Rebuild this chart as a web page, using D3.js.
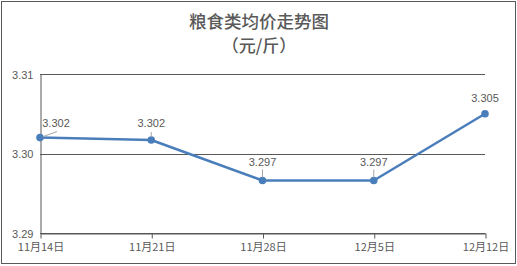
<!DOCTYPE html>
<html>
<head>
<meta charset="utf-8">
<script src="https://cdn.jsdelivr.net/npm/d3@7"></script>
<style>
  body { margin: 0; background: #fff; }
  text { font-family: "Noto Sans CJK SC", "Microsoft YaHei", sans-serif; fill: #595959; }
</style>
</head>
<body>
<script>
// Chart data
var dates = ["11月14日", "11月21日", "11月28日", "12月5日", "12月12日"];
var prices = [3.302, 3.3017, 3.2966, 3.2966, 3.305];
var priceLabels = ["3.302", "3.302", "3.297", "3.297", "3.305"];
var yTicks = [3.29, 3.30, 3.31];

var width = 517,
	height = 266;

var svg = d3.select("body").append("svg")
	.attr("width", width)
	.attr("height", height);

// outer frame
svg.append("rect")
	.attr("x", 1.5).attr("y", 1.5)
	.attr("width", width - 3).attr("height", height - 4)
	.attr("fill", "#fff")
	.attr("stroke", "#595959")
	.attr("stroke-width", 1);

// title
svg.append("text")
	.attr("x", 259).attr("y", 28)
	.attr("text-anchor", "middle")
	.style("font-size", "17.5px")
	.style("font-weight", "500")
	.text("粮食类均价走势图");
svg.append("text")
	.attr("x", 259).attr("y", 52)
	.attr("text-anchor", "middle")
	.style("font-size", "17px")
	.style("font-weight", "500")
	.text("（元/斤）");

var x = d3.scalePoint()
	.domain(dates)
	.range([40, 485]);

var y = d3.scaleLinear()
	.domain([3.29, 3.31])
	.range([233, 74]);

// horizontal gridlines
svg.append("g").selectAll("line")
	.data(yTicks)
	.enter().append("line")
		.attr("x1", 40).attr("x2", 485)
		.attr("y1", function(d) { return Math.round(y(d)) + 0.5; })
		.attr("y2", function(d) { return Math.round(y(d)) + 0.5; })
		.attr("stroke", "#595959")
		.attr("stroke-width", 1);

// y axis
var yAxis = svg.append("g")
	.attr("transform", "translate(40.5,0.5)")
	.call(d3.axisLeft(y).tickValues(yTicks).tickSize(0).tickPadding(7)
		.tickFormat(d3.format(".2f")));
yAxis.select(".domain").attr("stroke", "#595959");
yAxis.selectAll("text").style("font-size", "11px").style("font-family", "Liberation Sans, Arial, sans-serif").attr("fill", "#595959");

// x axis
var xAxis = svg.append("g")
	.attr("transform", "translate(0.5,233.5)")
	.call(d3.axisBottom(x).tickSize(5).tickPadding(5).tickSizeOuter(0));
xAxis.select(".domain").attr("stroke", "#595959");
xAxis.selectAll(".tick line").attr("stroke", "#595959");
xAxis.selectAll("text").style("font-size", "11px").attr("fill", "#595959");

// line
var line = d3.line()
	.x(function(d, i) { return x(dates[i]); })
	.y(function(d) { return y(d); });

svg.append("path")
	.datum(prices)
	.attr("d", line)
	.attr("fill", "none")
	.attr("stroke", "#4a7ebb")
	.attr("stroke-width", 2.5)
	.attr("stroke-linejoin", "round");

svg.append("g").selectAll("circle")
	.data(prices)
	.enter().append("circle")
		.attr("cx", function(d, i) { return x(dates[i]); })
		.attr("cy", function(d) { return y(d); })
		.attr("r", 3.8)
		.attr("fill", "#4a7ebb");

// data labels with leader lines
var labelOffsets = [[16, -11], [0, -13], [0, -15], [0, -15], [0, -12]];
var leaders = [[3, -1, 17, -6], [0, -3, 0, -8], [0, -3, 0, -11], [0, -3, 0, -11], null];

svg.append("g").selectAll("line")
	.data(prices)
	.enter().filter(function(d, i) { return leaders[i]; }).append("line")
		.attr("x1", function(d, i) { return x(dates[i]) + leaders[i][0]; })
		.attr("y1", function(d, i) { return y(d) + leaders[i][1]; })
		.attr("x2", function(d, i) { return x(dates[i]) + leaders[i][2]; })
		.attr("y2", function(d, i) { return y(d) + leaders[i][3]; })
		.attr("stroke", "#a6a6a6")
		.attr("stroke-width", 1);

svg.append("g").selectAll("text")
	.data(prices)
	.enter().append("text")
		.attr("x", function(d, i) { return x(dates[i]) + labelOffsets[i][0]; })
		.attr("y", function(d, i) { return y(d) + labelOffsets[i][1]; })
		.attr("text-anchor", "middle")
		.style("font-size", "11px")
		.style("font-family", "Liberation Sans, Arial, sans-serif")
		.attr("fill", "#404040")
		.text(function(d, i) { return priceLabels[i]; });
</script>
</body>
</html>
